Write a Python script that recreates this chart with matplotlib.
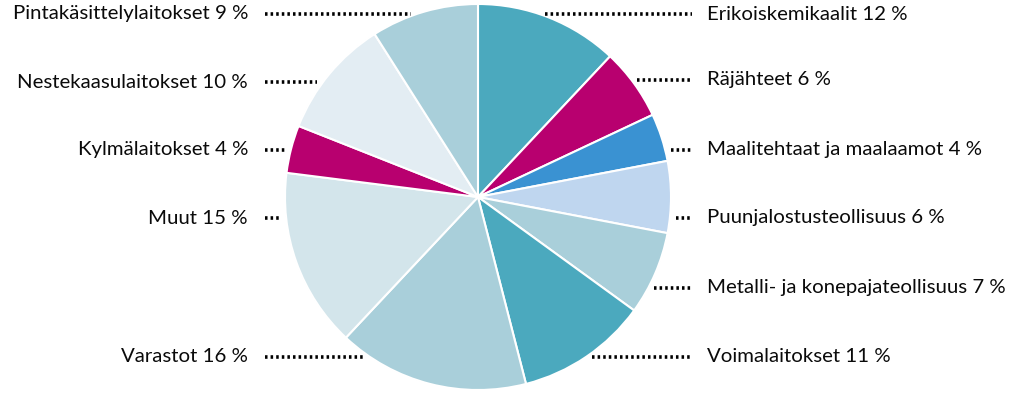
import numpy as np
import matplotlib.pyplot as plt

# Osuudet (%), myötäpäivään ylhäältä alkaen
categories = ['Erikoiskemikaalit', 'Räjähteet', 'Maalitehtaat ja maalaamot',
              'Puunjalostusteollisuus', 'Metalli- ja konepajateollisuus',
              'Voimalaitokset', 'Varastot', 'Muut', 'Kylmälaitokset',
              'Nestekaasulaitokset', 'Pintakäsittelylaitokset']
shares = [12, 6, 4, 6, 7, 11, 16, 15, 4, 10, 9]

colors = ['#4ba9be', '#b8006f', '#3a92d2', '#bfd6ef', '#a9cfda',
          '#4ba9be', '#a9cfda', '#d3e5eb', '#b8006f', '#e3edf3', '#a9cfda']

# Tekstien paikat (pikseleinä): puoli ja rivin y
label_side = ['R', 'R', 'R', 'R', 'R', 'R', 'L', 'L', 'L', 'L', 'L']
label_y = [14, 80, 150, 218, 288, 357, 357, 218, 150, 82, 14]

W, H = 1024, 395
cx, cy, r = 478, 197, 193

fig = plt.figure(figsize=(W / 100, H / 100), dpi=100)
ax = fig.add_axes([0, 0, 1, 1])

# y-akseli käännetään -> counterclock=True näkyy myötäpäivään
ax.pie(shares, colors=colors, startangle=-90, counterclock=True,
       center=(cx, cy), radius=r, frame=True,
       wedgeprops=dict(edgecolor='white', linewidth=1.5))
ax.set_xlim(0, W)
ax.set_ylim(H, 0)
ax.set_aspect('equal')
ax.axis('off')

dots = dict(color='black', lw=2.6, linestyle=(0, (0.7, 0.85)),
            solid_capstyle='butt')
txt_kw = dict(va='center', fontsize=14.7, family='Lato', color='#0a0a0a')

for name, val, side, y in zip(categories, shares, label_side, label_y):
    dx = np.sqrt(max(r ** 2 - (y - cy) ** 2, 0))
    txt = f'{name} {val} %'
    if side == 'R':
        x_edge = cx + dx + 6
        ax.plot([x_edge, 692], [y, y], **dots)
        ax.text(707, y, txt, ha='left', **txt_kw)
    else:
        x_edge = cx - dx - 6
        ax.plot([265, x_edge], [y, y], **dots)
        ax.text(248, y, txt, ha='right', **txt_kw)

fig.savefig('out.png', dpi=100)
